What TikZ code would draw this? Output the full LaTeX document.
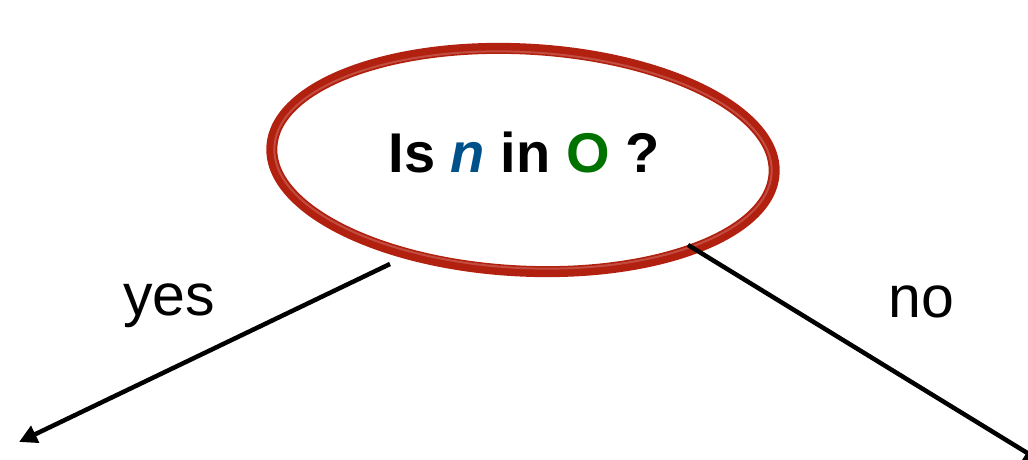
\documentclass[tikz,border=0pt]{standalone}
\usepackage{fontspec}
\setmainfont{Liberation Sans}
\usetikzlibrary{shapes.geometric,arrows.meta}
\definecolor{ringred}{HTML}{B2200F}
\definecolor{nblue}{HTML}{00508A}
\definecolor{ogreen}{HTML}{007200}
\tikzset{
  ring/.style={ellipse, draw=ringred, line width=11pt, minimum width=503pt, minimum height=222pt, inner sep=0pt},
  qtext/.style={font=\fontsize{56}{60}\selectfont\bfseries, anchor=base, inner sep=0pt},
  lbl/.style={font=\fontsize{59}{61}\selectfont, anchor=base, inner sep=0pt},
  conn/.style={line width=4.5pt, -{Triangle[length=18pt,width=18pt]}}
}
\begin{document}
\begin{tikzpicture}[x=1pt,y=-1pt]
\useasboundingbox (0,0) rectangle (1028,460);
\node[ring, rotate=-3] (q) at (523,160) {};
\draw[ringred!60, line width=2pt, opacity=0.5, rotate around={-3:(523,160)}] (523,160) ellipse [x radius=249pt, y radius=108pt];
\node[qtext] (t) at (524,172) {Is \textcolor{nblue}{\textit{n}} in \textcolor{ogreen}{O} ?};
\node[lbl] (yes) at (169,315) {yes};
\node[lbl] (no) at (921,317) {no};
\coordinate (ys) at (390,264);
\coordinate (ye) at (19,442);
\coordinate (ns) at (688,245);
\coordinate (ne) at (1042,462);
\draw[conn] (ys) -- (ye);
\draw[conn] (ns) -- (ne);
\end{tikzpicture}
\end{document}
